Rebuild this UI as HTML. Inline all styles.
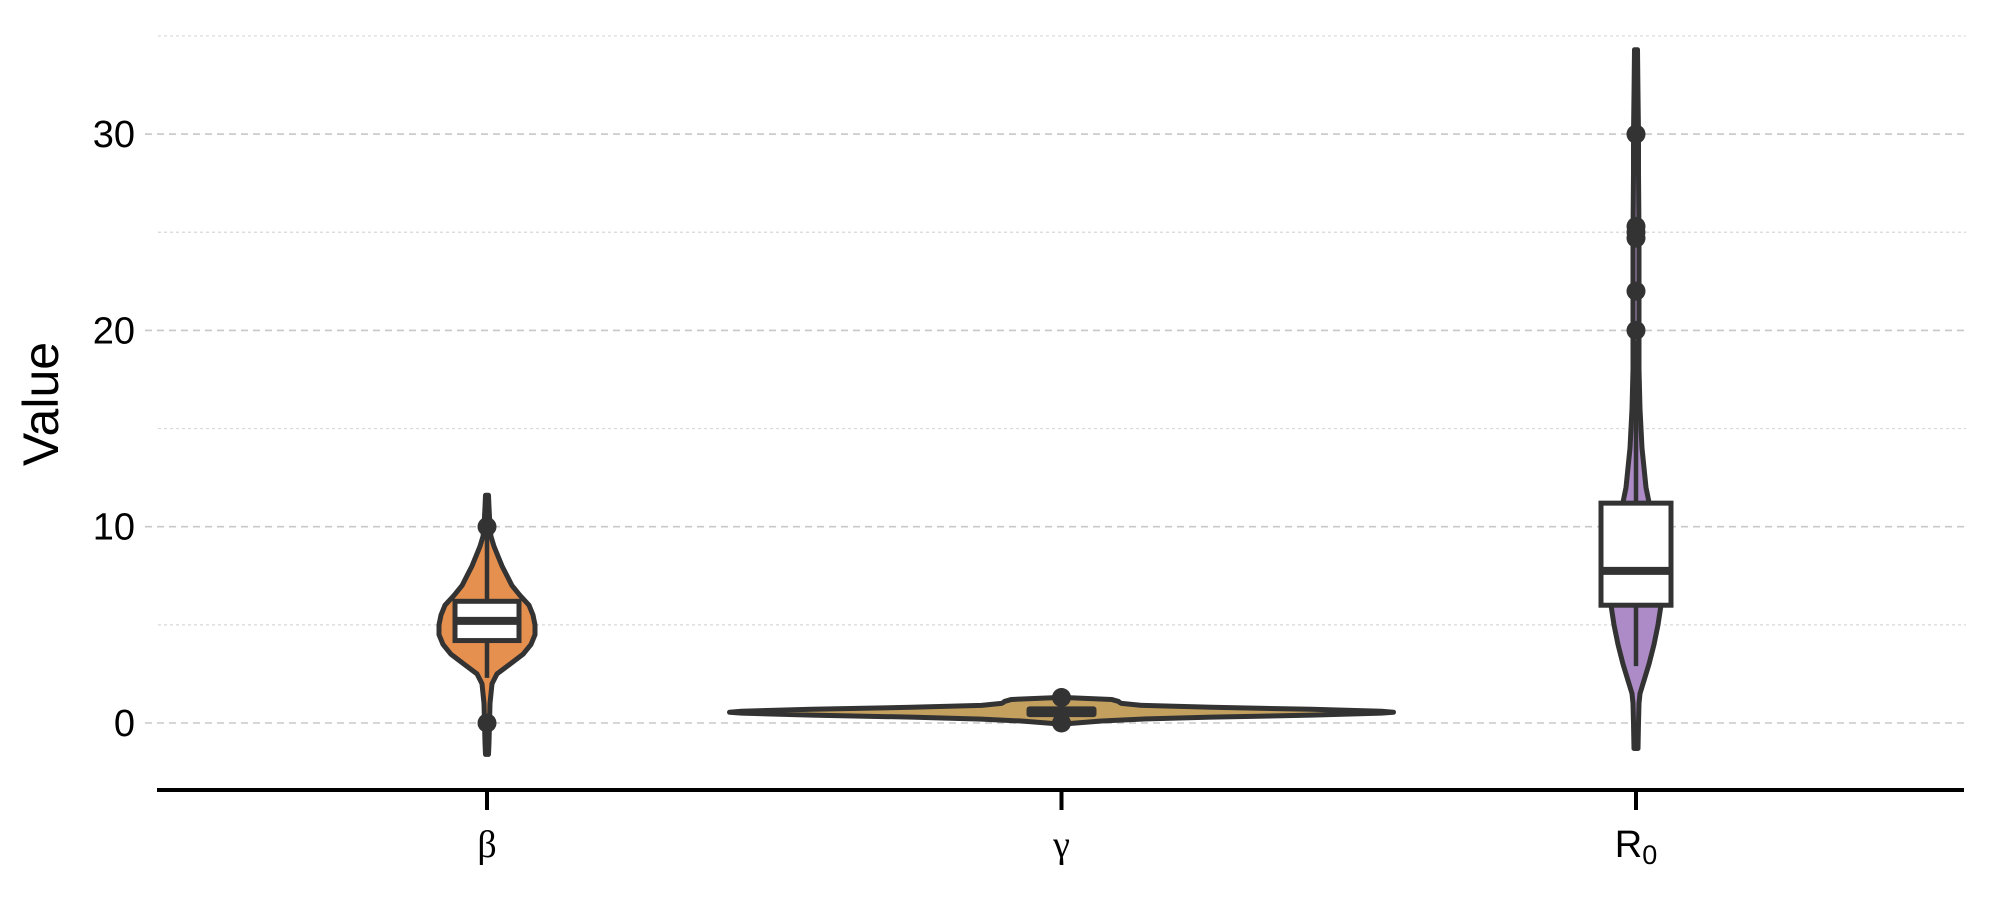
<!DOCTYPE html>
<html><head><meta charset="utf-8"><style>
html,body{margin:0;padding:0;background:#fff;width:2000px;height:900px;overflow:hidden}
svg{display:block}
</style></head><body>
<svg id="chart" width="2000" height="900" xmlns="http://www.w3.org/2000/svg">
<g id="grid"></g>
<g id="violins"></g>
<g id="axes"></g>
<text x="0" y="0" transform="translate(58,404) rotate(-90)" text-anchor="middle" font-family="Liberation Sans, sans-serif" font-size="50" fill="#000">Value</text>
</svg>
<script>
const categories = ['β','γ','R0'];
const yTicks = [0,10,20,30];
const yMinorTicks = [5,15,25,35];
const colors = ['#e6904f','#c4a05f','#ad8bc7'];
const betaVals = [-1.6,-1,0,1,2,2.5,3,3.5,4,4.5,5,5.5,6,6.5,7,7.5,8,8.5,9,9.5,10,10.5,11,11.6];
const betaDens = [1.5,2,2.5,3,5,10,23,36,44,48,48,46,42,33,25,20,15,11,7,4,3,2.5,2,1.5];
const gammaVals = [-0.05,0.1,0.2,0.3,0.4,0.5,0.55,0.6,0.7,0.8,0.9,1.0,1.05,1.1,1.2,1.3];
const gammaDens = [2,40,80,150,250,320,332,320,250,150,80,60,58,57,50,3];
const r0Vals = [-1.3,0,1,1.5,2,3,4,5,6,7,8,9,10,11,12,13,14,15,16,17,18,19,20,22,25,28,30,32,34.3];
const r0Dens = [2,2.5,3,4,7,13,18,22,25,26,25,22,19,14,10,8,6,5,4,3.5,3,3,3,3,3,2.5,2.5,2,1.5];
const betaBox = [2.3,4.2,5.2,6.2,9.6];
const gammaBox = [0.2,0.3,0.55,0.85,1.2];
const r0Box = [2.9,6.0,7.75,11.2,19.5];
const betaOutliers = [0,10];
const gammaOutliers = [0,1.3];
const r0Outliers = [20,22,24.7,25,25.3,30];

const NS='http://www.w3.org/2000/svg';
function y(v){return 723 - 19.63*v;}
function x(i){return 487 + 574.5*i;}
function mk(tag,attrs,parent){const e=document.createElementNS(NS,tag);for(const k in attrs)e.setAttribute(k,attrs[k]);parent.appendChild(e);return e;}
const grid=document.getElementById('grid'),vg=document.getElementById('violins'),ax=document.getElementById('axes');

yTicks.forEach(t=>{
  const l=mk('line',{x1:145,x2:1966,y1:y(t),y2:y(t),stroke:'#c8c8c8','stroke-width':1.6,'stroke-dasharray':'7 5'},grid);
  
  
  const tx=mk('text',{x:135,y:y(t)+13,'text-anchor':'end','font-family':'Liberation Sans, sans-serif','font-size':38,fill:'#000'},ax);
  tx.textContent=t;
  
  
});
yMinorTicks.forEach(t=>{
  const l=mk('line',{x1:158,x2:1966,y1:y(t),y2:y(t),stroke:'#d8d8d8','stroke-width':1.2,'stroke-dasharray':'3 3'},grid);
  
  
});

const sets=[[betaVals,betaDens,betaBox,betaOutliers,false],[gammaVals,gammaDens,gammaBox,gammaOutliers,true],[r0Vals,r0Dens,r0Box,r0Outliers,false]];
const names=['beta','gamma','r0'];
sets.forEach((s,i)=>{
  const [vals,dens,box,outs,darkBox]=s;const cx=x(i);
  const g=mk('g',{},vg);
  
  
  let pts=[];
  for(let k=0;k<vals.length;k++)pts.push((cx+dens[k])+','+y(vals[k]));
  for(let k=vals.length-1;k>=0;k--)pts.push((cx-dens[k])+','+y(vals[k]));
  const p=mk('polygon',{points:pts.join(' '),fill:colors[i],stroke:'#333','stroke-width':5,'stroke-linejoin':'round'},g);
  
  
  const w=mk('line',{x1:cx,x2:cx,y1:y(box[0]),y2:y(box[4]),stroke:'#333','stroke-width':4.5},g);
  
  
  if(darkBox){
    const r=mk('rect',{x:cx-35,y:y(box[3]),width:70,height:y(box[1])-y(box[3]),fill:'#333',rx:3},g);
    
    
  }else{
    const hw = i===0?32:35;
    const r=mk('rect',{x:cx-hw,y:y(box[3]),width:2*hw,height:y(box[1])-y(box[3]),fill:'#fff',stroke:'#333','stroke-width':5},g);
    
    
    const m=mk('line',{x1:cx-hw,x2:cx+hw,y1:y(box[2]),y2:y(box[2]),stroke:'#333','stroke-width':8},g);
    
    
  }
  outs.forEach(o=>{
    const c=mk('circle',{cx:cx,cy:y(o),r:9.5,fill:'#333'},g);
    
    
  });
});

const axl=mk('line',{x1:157,x2:1964,y1:790,y2:790,stroke:'#000','stroke-width':4},ax);


categories.forEach((c,i)=>{
  const t=mk('line',{x1:x(i),x2:x(i),y1:790,y2:810,stroke:'#000','stroke-width':4},ax);
  
  
  const tx=mk('text',{x:x(i),y:857,'text-anchor':'middle','font-size':38,fill:'#000'},ax);
  
  
  if(c==='R0'){
    tx.setAttribute('font-family','Liberation Sans, sans-serif');
    tx.textContent='R';
    const sub=mk('tspan',{'font-size':27,dy:7},tx);sub.textContent='0';
  }else{
    tx.setAttribute('font-family','Liberation Serif, DejaVu Serif, serif');
    tx.textContent=c;
  }
});
</script>
</body></html>
